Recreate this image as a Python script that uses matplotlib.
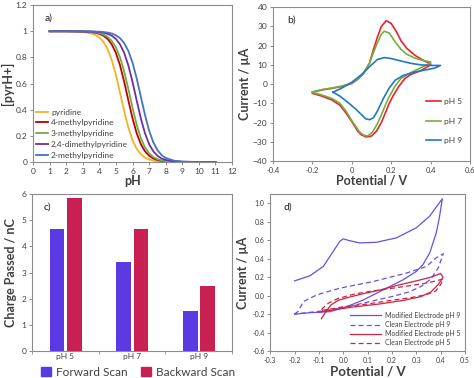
import numpy as np
import matplotlib.pyplot as plt
from matplotlib.ticker import FuncFormatter, MultipleLocator
from matplotlib.patches import Patch

# ---- panel a: protonated fraction vs pH ----
ph = [1, 2, 3, 3.5, 3.75, 4, 4.25, 4.5, 4.75, 5, 5.25, 5.5, 5.75, 6, 6.25,
      6.5, 6.75, 7, 7.25, 7.5, 7.75, 8, 8.5, 9, 10, 11]
pyridine = [1.0, 1.0, 0.995, 0.984, 0.973, 0.952, 0.918, 0.863, 0.780, 0.666,
            0.529, 0.387, 0.262, 0.166, 0.101, 0.059, 0.034, 0.020, 0.011,
            0.006, 0.004, 0.002, 0.001, 0.0, 0.0, 0.0]
methyl4 = [1.0, 1.0, 0.998, 0.994, 0.989, 0.980, 0.966, 0.941, 0.899, 0.834,
           0.738, 0.613, 0.471, 0.334, 0.220, 0.137, 0.082, 0.048, 0.027,
           0.016, 0.009, 0.005, 0.002, 0.001, 0.0, 0.0]
methyl3 = [1.0, 1.0, 0.999, 0.996, 0.992, 0.986, 0.975, 0.957, 0.926, 0.876,
           0.799, 0.691, 0.557, 0.415, 0.285, 0.183, 0.112, 0.066, 0.038,
           0.022, 0.012, 0.007, 0.002, 0.001, 0.0, 0.0]
dimethyl24 = [1.0, 1.0, 0.999, 0.998, 0.996, 0.994, 0.989, 0.980, 0.966,
              0.941, 0.899, 0.834, 0.738, 0.613, 0.471, 0.334, 0.220, 0.137,
              0.082, 0.048, 0.027, 0.016, 0.005, 0.002, 0.0, 0.0]
methyl2 = [1.0, 1.0, 1.0, 0.999, 0.998, 0.997, 0.994, 0.990, 0.983, 0.969,
           0.947, 0.909, 0.849, 0.760, 0.640, 0.500, 0.360, 0.240, 0.151,
           0.091, 0.053, 0.031, 0.010, 0.003, 0.0, 0.0]
names_a = ['pyridine', '4-methylpyridine', '3-methylpyridine',
           '2,4-dimethylpyridine', '2-methylpyridine']
colors_a = ['#f2b22a', '#c00000', '#70ad47', '#7030a0', '#4472c4']

# ---- panel b: CVs at three pH ----
e_ph5 = [-0.2, -0.15, -0.1, -0.05, 0.0, 0.03, 0.06, 0.09, 0.11, 0.13, 0.15,
         0.175, 0.2, 0.225, 0.25, 0.28, 0.32, 0.36, 0.4,
         0.4, 0.35, 0.3, 0.27, 0.24, 0.21, 0.19, 0.17, 0.15, 0.125, 0.1,
         0.075, 0.05, 0.03, 0.0, -0.03, -0.06, -0.1, -0.15, -0.2]
i_ph5 = [-4.2, -3.0, -2.2, -1.2, 0.3, 2.5, 5.5, 11, 18, 24.5, 30,
         33, 31.5, 27.5, 22.5, 18.5, 15, 12.5, 10.5,
         10, 7, 5, 3, -1, -6, -10, -15, -20, -24.5, -27,
         -27.5, -26.5, -24.5, -19.5, -15, -11, -8.3, -6.3, -4.8]
e_ph7 = [-0.2, -0.15, -0.1, -0.05, 0.0, 0.03, 0.06, 0.09, 0.11, 0.13, 0.15,
         0.165, 0.19, 0.22, 0.25, 0.28, 0.32, 0.36, 0.4,
         0.4, 0.35, 0.3, 0.25, 0.22, 0.19, 0.17, 0.15, 0.13, 0.105, 0.08,
         0.06, 0.04, 0.0, -0.03, -0.06, -0.1, -0.15, -0.2]
i_ph7 = [-4.0, -2.8, -2.0, -1.0, 0.5, 2.7, 5.8, 11, 16.5, 21.5, 26,
         27.5, 26.5, 22, 18, 15.5, 13.5, 12.3, 11.5,
         11, 8.5, 6, 3, -1, -6.5, -11, -16, -20.5, -25, -27,
         -26.5, -25, -19, -14, -10, -7.5, -5.7, -4.3]
e_ph9 = [-0.095, -0.05, 0.0, 0.05, 0.1, 0.13, 0.165, 0.2, 0.25, 0.3, 0.35,
         0.4, 0.45,
         0.45, 0.42, 0.38, 0.32, 0.26, 0.22, 0.19, 0.16, 0.13, 0.11, 0.09,
         0.07, 0.05, 0.02, -0.02, -0.06, -0.095]
i_ph9 = [-4.2, -2.0, 1.0, 5.0, 10.0, 12.8, 13.8, 13.3, 12.0, 10.8, 10.0,
         9.7, 9.7,
         9.7, 8.3, 7.5, 6.3, 4.5, 2.0, -2.0, -7.5, -14, -17.5, -18.5,
         -18, -16, -13, -9.5, -6.3, -4.2]

# ---- panel c: charge passed ----
categories = ['pH 5', 'pH 7', 'pH 9']
forward = [4.65, 3.42, 1.53]
backward = [5.85, 4.65, 2.47]

# ---- panel d: modified vs clean electrode ----
e_mod9 = [-0.2, -0.137, -0.082, -0.041, -0.014, 0.0, 0.027, 0.068, 0.136,
          0.218, 0.3, 0.355, 0.393, 0.407,
          0.395, 0.382, 0.355, 0.327, 0.3, 0.245, 0.164, 0.082, 0.014,
          -0.055, -0.137, -0.2]
i_mod9 = [0.16, 0.215, 0.316, 0.48, 0.589, 0.615, 0.595, 0.571, 0.578,
          0.626, 0.735, 0.862, 1.0, 1.05,
          0.85, 0.68, 0.462, 0.335, 0.262, 0.171, 0.062, -0.047, -0.12,
          -0.174, -0.185, -0.2]
e_cln9 = [-0.2, -0.185, -0.164, -0.109, -0.014, 0.123, 0.259, 0.341, 0.382,
          0.411,
          0.39, 0.36, 0.32, 0.27, 0.2, 0.1, 0.0, -0.1, -0.2]
i_cln9 = [-0.2, -0.17, -0.065, 0.008, 0.081, 0.153, 0.244, 0.316, 0.41,
          0.455,
          0.3, 0.18, 0.1, 0.04, -0.01, -0.07, -0.13, -0.17, -0.2]
e_mod5 = [-0.09, -0.07, -0.05, -0.02, 0.02, 0.08, 0.15, 0.22, 0.3, 0.36,
          0.4, 0.41, 0.39, 0.36, 0.32, 0.25, 0.15, 0.05, -0.03, -0.08, -0.1]
i_mod5 = [-0.25, -0.17, -0.1, -0.05, -0.02, 0.02, 0.06, 0.11, 0.16, 0.2,
          0.24, 0.2, 0.12, 0.04, -0.01, -0.05, -0.09, -0.12, -0.15, -0.17,
          -0.18]
e_cln5 = [-0.09, -0.06, -0.02, 0.05, 0.12, 0.2, 0.28, 0.35, 0.41,
          0.4, 0.38, 0.34, 0.28, 0.2, 0.1, 0.0, -0.06, -0.09]
i_cln5 = [-0.15, -0.08, -0.03, 0.02, 0.05, 0.08, 0.11, 0.14, 0.18,
          0.12, 0.05, 0.01, -0.02, -0.05, -0.09, -0.12, -0.15, -0.16]

txt = '#404040'
spine = '#8c8c8c'
plt.rcParams['font.family'] = ['Lato', 'DejaVu Sans']

fig = plt.figure(figsize=(4.74, 3.78), dpi=100)
axA = fig.add_axes([0.0696, 0.5714, 0.42, 0.415])
axB = fig.add_axes([0.576, 0.574, 0.4156, 0.407])
axC = fig.add_axes([0.0675, 0.0714, 0.422, 0.415])
axD = fig.add_axes([0.570, 0.0714, 0.411, 0.415])

def styleAxes(ax, size):
    for s in ax.spines.values():
        s.set_color(spine)
        s.set_linewidth(0.8)
    ax.tick_params(labelsize=size, colors=spine, labelcolor=txt,
                   length=2.5, width=0.7, pad=1.5)

gfmt = FuncFormatter(lambda v, p: f'{v:g}')

# Panel a
lines = [pyridine, methyl4, methyl3, dimethyl24, methyl2]
for vals, name, col in zip(lines, names_a, colors_a):
    axA.plot(ph, vals, color=col, lw=1.3, label=name)
axA.set_xlim(0, 12)
axA.set_ylim(0, 1.2)
axA.xaxis.set_major_locator(MultipleLocator(1))
axA.yaxis.set_major_locator(MultipleLocator(0.2))
axA.xaxis.set_major_formatter(gfmt)
axA.yaxis.set_major_formatter(gfmt)
styleAxes(axA, 6)
axA.set_xlabel('pH', fontsize=9, fontweight='bold', color=txt, labelpad=0)
axA.set_ylabel('[pyrH+]', fontsize=9, fontweight='bold', color=txt,
               labelpad=1)
axA.text(0.06, 0.9, 'a)', transform=axA.transAxes, fontsize=7.5, color='#222')
legA = axA.legend(loc='lower left', bbox_to_anchor=(-0.01, -0.01),
                  frameon=False, fontsize=6, handlelength=1.4,
                  handletextpad=0.4, labelspacing=0.45, borderaxespad=0.2)
for t in legA.get_texts():
    t.set_color(txt)

# Panel b
axB.plot(e_ph5, i_ph5, color='#e8232d', lw=1.2, label='pH 5')
axB.plot(e_ph7, i_ph7, color='#72b043', lw=1.2, label='pH 7')
axB.plot(e_ph9, i_ph9, color='#1f78c8', lw=1.2, label='pH 9')
axB.set_xlim(-0.4, 0.6)
axB.set_ylim(-40, 40)
axB.xaxis.set_major_locator(MultipleLocator(0.2))
axB.yaxis.set_major_locator(MultipleLocator(10))
axB.xaxis.set_major_formatter(gfmt)
styleAxes(axB, 6)
axB.tick_params(axis='x', labelsize=5.4)
axB.set_xlabel('Potential / V', fontsize=9, fontweight='bold', color=txt,
               labelpad=1)
axB.set_ylabel('Current / µA', fontsize=9, fontweight='bold', color=txt,
               labelpad=1)
axB.text(0.07, 0.9, 'b)', transform=axB.transAxes, fontsize=7.5, color='#222')
legB = axB.legend(loc='lower right', bbox_to_anchor=(1.0, 0.06),
                  frameon=False, fontsize=6, handlelength=1.8,
                  handletextpad=0.4, labelspacing=1.5)
for t in legB.get_texts():
    t.set_color(txt)

# Panel c
x = np.arange(len(categories))
axC.bar(x - 0.125, forward, width=0.22, color='#5a3be3')
axC.bar(x + 0.135, backward, width=0.22, color='#c82052')
axC.set_xlim(-0.5, 2.5)
axC.set_ylim(0, 6)
axC.set_xticks(x)
axC.set_xticklabels(categories)
axC.set_xticks([-0.5, 0.5, 1.5, 2.5], minor=True)
styleAxes(axC, 6)
axC.tick_params(axis='x', which='major', length=0)
axC.tick_params(axis='x', which='minor', length=2.5, color=spine)
axC.set_ylabel('Charge Passed / nC', fontsize=9, fontweight='bold',
               color=txt, labelpad=3)
axC.text(0.06, 0.9, 'c)', transform=axC.transAxes, fontsize=7.5, color='#222')
handlesC = [Patch(color='#5a3be3', label='Forward Scan'),
            Patch(color='#c82052', label='Backward Scan')]
legC = axC.legend(handles=handlesC, loc='upper center',
                  bbox_to_anchor=(0.53, -0.07), ncol=2, frameon=False,
                  fontsize=8.5, handlelength=0.8, handleheight=0.8,
                  handletextpad=0.4, columnspacing=1.2, borderaxespad=0)
for t in legC.get_texts():
    t.set_color(txt)

# Panel d
axD.plot(e_mod9, i_mod9, color='#6650e0', lw=0.9,
         label='Modified Electrode pH 9')
axD.plot(e_cln9, i_cln9, color='#6650e0', lw=0.9, ls=(0, (4, 2.5)),
         label='Clean Electrode pH 9')
axD.plot(e_mod5, i_mod5, color='#cc2244', lw=0.9,
         label='Modified Electrode pH 5')
axD.plot(e_cln5, i_cln5, color='#cc2244', lw=0.9, ls=(0, (4, 2.5)),
         label='Clean Electrode pH 5')
axD.set_xlim(-0.3, 0.5)
axD.set_ylim(-0.6, 1.1)
axD.xaxis.set_major_locator(MultipleLocator(0.1))
axD.yaxis.set_major_locator(MultipleLocator(0.2))
axD.xaxis.set_major_formatter(FuncFormatter(lambda v, p: f'{v:.1f}'))
axD.yaxis.set_major_formatter(FuncFormatter(lambda v, p: f'{v:.1f}'))
styleAxes(axD, 5)
axD.set_xlabel('Potential / V', fontsize=9.5, fontweight='bold', color=txt,
               labelpad=1.5)
axD.set_ylabel('Current / µA', fontsize=9, fontweight='bold', color=txt,
               labelpad=2)
axD.text(0.07, 0.9, 'd)', transform=axD.transAxes, fontsize=7.5, color='#222')
legD = axD.legend(loc='lower right', bbox_to_anchor=(1.0, 0.0),
                  frameon=False, fontsize=5, handlelength=4.5,
                  handletextpad=0.5, labelspacing=0.3, borderaxespad=0.3)
for t in legD.get_texts():
    t.set_color(txt)

fig.savefig('out.png', dpi=100)
